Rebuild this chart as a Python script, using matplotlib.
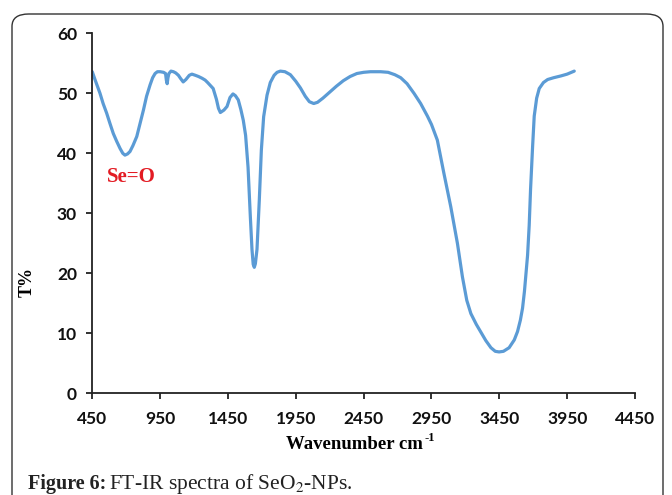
import matplotlib
matplotlib.use("Agg")
import matplotlib.pyplot as plt
from matplotlib.patches import FancyBboxPatch

# FT-IR spectrum
wavenumber = [450, 470, 507, 530, 556, 580, 605, 630, 655, 675, 691, 710, 728, 750,
              778, 800, 827, 850, 876, 895, 913, 930, 950, 975, 990, 996, 1002,
              1008, 1015, 1030, 1048, 1065, 1085, 1100, 1120, 1140, 1165, 1184,
              1210, 1233, 1260, 1282, 1300, 1341, 1365, 1380, 1394, 1420, 1443,
              1465, 1487, 1505, 1526, 1545, 1563, 1580, 1598, 1615, 1627, 1636,
              1644, 1652, 1664, 1681, 1696, 1713, 1738, 1762, 1790, 1812, 1836,
              1870, 1910, 1950, 1984, 2020, 2050, 2082, 2110, 2150, 2200, 2250,
              2300, 2350, 2400, 2450, 2500, 2575, 2630, 2680, 2723, 2770, 2821,
              2870, 2920, 2950, 2993, 3042, 3092, 3141, 3178, 3210, 3240, 3280,
              3314, 3350, 3388, 3420, 3448, 3480, 3522, 3560, 3584, 3605, 3621,
              3635, 3645, 3658, 3670, 3680, 3695, 3707, 3725, 3744, 3775, 3806,
              3850, 3904, 3950, 4002]
transmittance = [53.6, 52.3, 50.0, 48.3, 46.7, 45.0, 43.3, 42.0, 40.8, 40.0, 39.7,
                 39.9, 40.3, 41.3, 42.8, 44.8, 47.2, 49.5, 51.4, 52.6, 53.3, 53.6,
                 53.6, 53.5, 53.3, 52.2, 51.6, 52.6, 53.3, 53.7, 53.6, 53.4, 53.0,
                 52.5, 51.9, 52.3, 53.0, 53.2, 53.0, 52.8, 52.5, 52.2, 51.8, 50.8,
                 49.0, 47.5, 46.8, 47.2, 47.8, 49.3, 49.9, 49.6, 48.9, 47.3, 45.5,
                 43.0, 37.7, 29.4, 24.0, 21.5, 21.0, 21.6, 24.0, 32.2, 40.5, 46.1,
                 49.7, 51.8, 53.0, 53.5, 53.7, 53.6, 53.1, 52.0, 50.9, 49.5, 48.6,
                 48.3, 48.5, 49.2, 50.2, 51.2, 52.1, 52.8, 53.3, 53.5, 53.6, 53.6,
                 53.5, 53.1, 52.6, 51.6, 50.0, 48.3, 46.2, 44.8, 42.2, 36.6, 31.1,
                 25.0, 19.4, 15.5, 13.3, 11.5, 10.2, 8.8, 7.6, 7.0, 6.9, 7.0, 7.6,
                 8.9, 10.3, 12.2, 14.2, 17.0, 19.6, 23.0, 28.0, 34.0, 41.1, 46.2,
                 49.2, 50.8, 51.8, 52.3, 52.6, 52.9, 53.2, 53.7]

x_ticks = [450, 950, 1450, 1950, 2450, 2950, 3450, 3950, 4450]
y_ticks = [0, 10, 20, 30, 40, 50, 60]

fig = plt.figure(figsize=(6.72, 4.95), dpi=100)
ax = fig.add_axes([0.1373, 0.2054, 0.8077, 0.7273])

ax.plot(wavenumber, transmittance, color="#5B9BD5", lw=2.3,
        solid_capstyle="round", solid_joinstyle="round")

ax.set_xlim(450, 4450)
ax.set_ylim(0, 60)
ax.set_xticks(x_ticks)
ax.set_yticks(y_ticks)
for side in ["top", "right"]:
    ax.spines[side].set_visible(False)
for side in ["left", "bottom"]:
    ax.spines[side].set_linewidth(1.3)
    ax.spines[side].set_color("#222222")
ax.tick_params(axis="both", direction="out", length=4, width=1.3, color="#222222")
ax.tick_params(axis="x", pad=9)
ax.tick_params(axis="y", pad=7)
for lab in ax.get_xticklabels() + ax.get_yticklabels():
    lab.set_family(["Lato", "DejaVu Sans"])
    lab.set_fontweight("bold")
    lab.set_fontsize(12.5)
    lab.set_color("#111111")

# x label with a plain "-1" superscript
xl = fig.text(0.528, 0.093, "Wavenumber cm", family="Liberation Serif",
              fontweight="bold", fontsize=13.5, ha="center", va="baseline")
fig.canvas.draw()
bb = xl.get_window_extent()
fig.text((bb.x1 + 1) / 672, 0.093 + 8 / 495, "-1", family="Liberation Serif",
         fontweight="bold", fontsize=9, ha="left", va="baseline")

fig.text(0.041, 0.43, "T%", rotation=90, ha="center", va="center",
         family="Liberation Serif", fontweight="bold", fontsize=13)

ax.text(559, 36, "Se=O", color="#E31B23", family="Liberation Serif",
        fontweight="bold", fontsize=15, ha="left", va="center")

# rounded frame around the figure panel
frame = FancyBboxPatch((12 / 672, -0.2), 651 / 672, 1.2 - 14 / 495,
                       boxstyle="round,pad=0,rounding_size=0.025",
                       transform=fig.transFigure, fill=False,
                       edgecolor="#333333", lw=1.0, clip_on=False)
fig.patches.append(frame)

# caption: bold lead-in followed by regular text
cap = fig.text(0.042, 0.012, "Figure 6:", family="Liberation Serif",
               fontweight="bold", fontsize=14.5, ha="left", va="baseline",
               color="#222222")
fig.canvas.draw()
cb = cap.get_window_extent()
fig.text((cb.x1 + 3) / 672, 0.012, "FT-IR spectra of SeO$_2$-NPs.",
         family="Liberation Serif", fontsize=15.5, ha="left", va="baseline",
         color="#222222", math_fontfamily="stix")

fig.savefig("out.png", dpi=100)
